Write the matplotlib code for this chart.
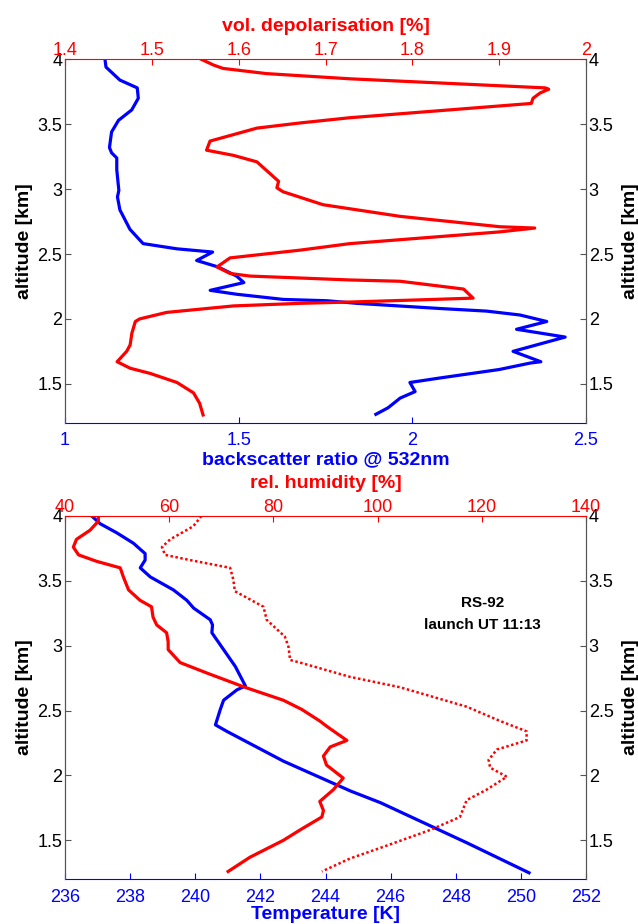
#!/usr/bin/env python
import matplotlib
matplotlib.use('Agg')
from matplotlib import pyplot as plt

plt.rcParams['font.family'] = ['Liberation Sans', 'DejaVu Sans']

# ---- top panel: lidar ----
alt_bsr = [4.00, 3.94, 3.84, 3.78, 3.70, 3.61, 3.53, 3.44, 3.32, 3.28, 3.24, 3.15,
           2.99, 2.94, 2.84, 2.69, 2.62, 2.58, 2.54, 2.515, 2.45, 2.40, 2.33, 2.28,
           2.22, 2.19, 2.15, 2.14, 2.12, 2.08, 2.06, 2.03, 1.98, 1.92, 1.86, 1.75,
           1.67, 1.66, 1.61, 1.545, 1.51, 1.44, 1.39, 1.315, 1.265]
bsr = [1.115, 1.118, 1.158, 1.208, 1.211, 1.192, 1.154, 1.134, 1.128, 1.134, 1.149, 1.149,
       1.155, 1.151, 1.158, 1.187, 1.211, 1.225, 1.322, 1.425, 1.379, 1.441, 1.494, 1.515,
       1.418, 1.494, 1.629, 1.754, 1.84, 2.08, 2.214, 2.31, 2.387, 2.30, 2.44, 2.29,
       2.37, 2.34, 2.25, 2.08, 1.993, 2.008, 1.965, 1.93, 1.895]

alt_dep = [4.00, 3.956, 3.93, 3.89, 3.85, 3.78, 3.77, 3.74, 3.70, 3.66, 3.55, 3.51,
           3.47, 3.37, 3.30, 3.26, 3.21, 3.12, 3.06, 3.01, 2.98, 2.88, 2.79, 2.71,
           2.70, 2.67, 2.58, 2.53, 2.47, 2.40, 2.35, 2.33, 2.315, 2.30, 2.29, 2.23,
           2.16, 2.15, 2.13, 2.12, 2.10, 2.05, 2.00, 1.98, 1.89, 1.80, 1.75, 1.67,
           1.62, 1.58, 1.51, 1.43, 1.35, 1.26]
depol = [1.557, 1.571, 1.582, 1.632, 1.728, 1.953, 1.957, 1.947, 1.939, 1.937, 1.728, 1.671,
         1.621, 1.567, 1.563, 1.594, 1.621, 1.636, 1.646, 1.644, 1.651, 1.697, 1.786, 1.901,
         1.941, 1.900, 1.728, 1.671, 1.590, 1.575, 1.590, 1.613, 1.671, 1.728, 1.786, 1.859,
         1.870, 1.824, 1.728, 1.671, 1.594, 1.517, 1.486, 1.481, 1.477, 1.475, 1.471, 1.460,
         1.475, 1.498, 1.529, 1.548, 1.555, 1.559]

# ---- bottom panel: radiosonde ----
alt_t = [4.00, 3.94, 3.87, 3.79, 3.71, 3.66, 3.60, 3.53, 3.43, 3.35, 3.29, 3.20, 3.16,
         3.10, 2.97, 2.84, 2.69, 2.66, 2.58, 2.51, 2.39, 2.34, 2.11, 1.88, 1.79, 1.48, 1.25]
temp = [236.82, 237.08, 237.59, 238.10, 238.46, 238.46, 238.31, 238.62, 239.33, 239.74,
        239.95, 240.46, 240.53, 240.51, 240.87, 241.23, 241.54, 241.28, 240.87, 240.77,
        240.62, 240.97, 242.71, 244.77, 245.69, 248.35, 250.25]

alt_rh = [4.00, 3.96, 3.89, 3.82, 3.76, 3.70, 3.65, 3.60, 3.53, 3.43, 3.35, 3.30, 3.22,
          3.16, 3.10, 3.03, 2.97, 2.87, 2.79, 2.68, 2.58, 2.51, 2.42, 2.38, 2.27, 2.22,
          2.15, 2.08, 1.98, 1.89, 1.80, 1.73, 1.68, 1.58, 1.50, 1.37, 1.26]
rh_w = [46.4, 46.4, 44.8, 42.2, 41.6, 42.6, 46.1, 50.6, 51.2, 52.2, 54.4, 56.6, 56.9,
        57.6, 59.5, 59.8, 59.8, 62.1, 67.2, 74.5, 81.9, 85.4, 88.9, 90.2, 94.1, 90.9,
        89.6, 90.2, 93.4, 91.5, 88.9, 89.6, 89.3, 85.1, 81.9, 75.5, 71.3]

alt_rhi = [4.00, 3.92, 3.82, 3.76, 3.70, 3.66, 3.60, 3.51, 3.42, 3.30, 3.20, 3.07, 2.99,
           2.89, 2.87, 2.76, 2.68, 2.53, 2.42, 2.34, 2.27, 2.20, 2.12, 2.06, 1.99, 1.89,
           1.81, 1.68, 1.58, 1.45, 1.36, 1.26]
rh_i = [66.2, 64.6, 60.2, 58.6, 59.2, 64.0, 71.7, 72.3, 72.6, 78.1, 78.7, 82.2, 82.9,
        83.2, 85.1, 94.7, 104.3, 117.1, 123.5, 128.6, 128.6, 122.9, 121.3, 121.6, 124.8,
        120.9, 117.1, 115.8, 110.1, 101.1, 94.7, 89.3]

y_ticks = [1.5, 2, 2.5, 3, 3.5, 4]
TFS = 13   # tick labels
LFS = 14   # axis labels


def style_axes(ax, axt):
    ax.set_ylim(1.2, 4)
    ax.set_yticks(y_ticks)
    ax.set_yticklabels(['1.5', '2', '2.5', '3', '3.5', '4'])
    ax.tick_params(axis='y', which='both', direction='in', left=True, right=True,
                   labelleft=True, labelright=True, labelsize=TFS, length=4, pad=2,
                   color='#555555')
    ax.tick_params(axis='x', direction='in', colors='blue', labelsize=TFS, length=4, pad=7)
    axt.tick_params(axis='x', direction='in', colors='red', labelsize=TFS, length=4, pad=0)
    ax.spines['bottom'].set_color('blue')
    axt.spines['top'].set_color('red')
    for a in (ax, axt):
        a.spines['left'].set_color('#555555')
        a.spines['right'].set_color('#555555')
    axt.spines['bottom'].set_visible(False)
    ax.spines['top'].set_visible(False)
    ax.set_ylabel('altitude [km]', fontsize=LFS, fontweight='bold', labelpad=3)
    sec = ax.secondary_yaxis('right')
    sec.set_yticks([])
    sec.spines['right'].set_visible(False)
    sec.set_ylabel('altitude [km]', fontsize=LFS, fontweight='bold', labelpad=26)


fig = plt.figure(figsize=(6.38, 9.24), dpi=100)

# top panel
ax1 = fig.add_axes([0.1019, 0.5425, 0.8166, 0.3933])
ax1.plot(bsr, alt_bsr, color='blue', lw=2.3)
ax1.set_xlim(1, 2.5)
ax1.set_xticks([1, 1.5, 2, 2.5])
ax1.set_xticklabels(['1', '1.5', '2', '2.5'])
ax1.set_xlabel('backscatter ratio @ 532nm', color='blue', fontsize=LFS,
               fontweight='bold', labelpad=1)
ax1t = ax1.twiny()
ax1t.plot(depol, alt_dep, color='red', lw=2.3)
ax1t.set_xlim(1.4, 2)
ax1t.set_xticks([1.4, 1.5, 1.6, 1.7, 1.8, 1.9, 2])
ax1t.set_xticklabels(['1.4', '1.5', '1.6', '1.7', '1.8', '1.9', '2'])
ax1t.set_xlabel('vol. depolarisation [%]', color='red', fontsize=LFS,
                fontweight='bold', labelpad=8)
style_axes(ax1, ax1t)

# bottom panel
ax2 = fig.add_axes([0.1019, 0.0484, 0.8166, 0.3932])
ax2.plot(temp, alt_t, color='blue', lw=2.3)
ax2.set_xlim(236, 252)
ax2.set_xticks(range(236, 253, 2))
ax2.set_xlabel('Temperature [K]', color='blue', fontsize=LFS,
               fontweight='bold', labelpad=0)
ax2t = ax2.twiny()
ax2t.plot(rh_w, alt_rh, color='red', lw=2.3)
ax2t.plot(rh_i, alt_rhi, color='red', lw=1.8, linestyle=(0, (1, 1)))
ax2t.set_xlim(40, 140)
ax2t.set_xticks(range(40, 141, 20))
ax2t.set_xlabel('rel. humidity [%]', color='red', fontsize=LFS,
                fontweight='bold', labelpad=8)
style_axes(ax2, ax2t)
ax2.text(0.802, 0.761, 'RS-92', transform=ax2.transAxes, ha='center', va='center',
         fontsize=11, fontweight='bold')
ax2.text(0.802, 0.700, 'launch UT 11:13', transform=ax2.transAxes, ha='center',
         va='center', fontsize=11, fontweight='bold')

plt.savefig('out.png', dpi=100)
